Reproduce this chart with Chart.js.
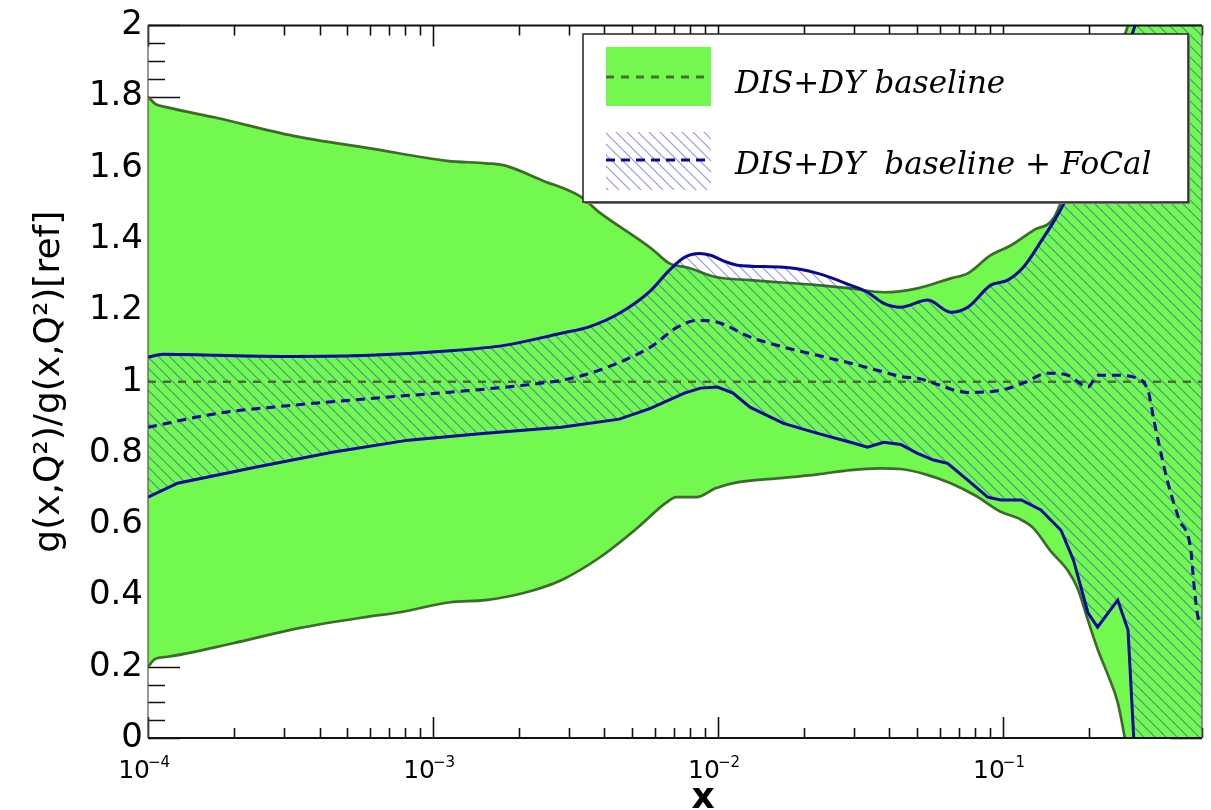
<!DOCTYPE html>
<html>
<head>
<meta charset="utf-8">
<title>Gluon nuclear modification</title>
<script src="https://cdn.jsdelivr.net/npm/chart.js@4.4.1/dist/chart.umd.min.js"></script>
<style>
  html, body { margin: 0; padding: 0; background: #fff; }
  #wrap { width: 1211px; height: 810px; }
</style>
</head>
<body>
<div id="wrap"><canvas id="chart"></canvas></div>
<script>
// DIS+DY baseline band (upper / lower edge) and its central value
const baseUpX = [1.0e-4, 1.06e-4, 1.17e-4, 1.75e-4, 3.23e-4, 6.02e-4, 1.12e-3, 1.53e-3, 1.78e-3, 2.42e-3,
  3.32e-3, 3.87e-3, 5.26e-3, 5.94e-3, 6.76e-3, 7.88e-3, 9.81e-3, 1.30e-2, 2.24e-2, 2.92e-2,
  3.82e-2, 5.02e-2, 6.56e-2, 7.53e-2, 9.07e-2, 0.107, 0.128, 0.151, 0.173, 0.204,
  0.239, 0.275, 0.331, 0.5];
const baseUpY = [1.80, 1.78, 1.77, 1.74, 1.69, 1.655, 1.62, 1.613, 1.607, 1.565,
  1.518, 1.473, 1.40, 1.369, 1.332, 1.32, 1.294, 1.285, 1.271, 1.262,
  1.251, 1.262, 1.29, 1.304, 1.355, 1.383, 1.425, 1.46, 1.58, 1.74,
  1.88, 2.0, 2.25, 2.9];

const baseLoX = [1.0e-4, 1.06e-4, 1.17e-4, 1.99e-4, 3.42e-4, 5.88e-4, 7.67e-4, 1.15e-3, 1.53e-3, 2.08e-3,
  2.82e-3, 3.87e-3, 5.26e-3, 6.55e-3, 7.15e-3, 8.41e-3, 9.81e-3, 1.18e-2, 1.70e-2, 2.24e-2,
  2.92e-2, 3.72e-2, 4.38e-2, 5.36e-2, 6.56e-2, 8.03e-2, 9.83e-2, 0.113, 0.128, 0.147,
  0.169, 0.183, 0.199, 0.215, 0.233, 0.253, 0.268, 0.305, 0.5];
const baseLoY = [0.20, 0.222, 0.228, 0.266, 0.309, 0.34, 0.353, 0.381, 0.387, 0.407,
  0.443, 0.508, 0.592, 0.659, 0.676, 0.676, 0.701, 0.718, 0.73, 0.74,
  0.752, 0.757, 0.755, 0.74, 0.715, 0.68, 0.635, 0.617, 0.589, 0.525,
  0.47, 0.42, 0.33, 0.25, 0.18, 0.10, 0.0, -0.25, -1.0];

const baseMidX = [1.0e-4, 0.5];
const baseMidY = [1.0, 1.0];

// DIS+DY baseline + FoCal band and its central value
const focUpX = [1.0e-4, 1.13e-4, 1.75e-4, 3.23e-4, 6.02e-4, 1.12e-3, 1.78e-3, 2.82e-3, 3.51e-3, 4.51e-3,
  5.80e-3, 6.76e-3, 7.63e-3, 8.61e-3, 9.42e-3, 1.04e-2, 1.17e-2, 1.70e-2, 2.24e-2, 2.92e-2,
  3.35e-2, 3.82e-2, 4.38e-2, 5.45e-2, 6.56e-2, 7.53e-2, 9.07e-2, 0.104, 0.118, 0.139,
  0.151, 0.166, 0.195, 0.230, 0.259, 0.291, 0.331, 0.5];
const focUpY = [1.069, 1.077, 1.074, 1.071, 1.074, 1.086, 1.102, 1.136, 1.153, 1.192,
  1.255, 1.313, 1.349, 1.36, 1.355, 1.34, 1.327, 1.321, 1.304, 1.271,
  1.251, 1.22, 1.209, 1.229, 1.195, 1.209, 1.271, 1.285, 1.321, 1.405,
  1.45, 1.51, 1.66, 1.80, 1.90, 2.0, 2.2, 3.0];

const focLoX = [1.0e-4, 1.27e-4, 2.38e-4, 4.43e-4, 8.19e-4, 1.53e-3, 2.82e-3, 4.51e-3, 5.80e-3, 7.63e-3,
  8.69e-3, 9.97e-3, 1.13e-2, 1.30e-2, 1.70e-2, 2.24e-2, 2.92e-2, 3.35e-2, 3.82e-2, 4.38e-2,
  5.02e-2, 5.71e-2, 6.40e-2, 7.53e-2, 8.85e-2, 9.83e-2, 0.116, 0.136, 0.160, 0.177,
  0.199, 0.215, 0.253, 0.275, 0.288, 0.305, 0.5];
const focLoY = [0.676, 0.715, 0.76, 0.802, 0.836, 0.855, 0.872, 0.895, 0.925, 0.968,
  0.982, 0.985, 0.968, 0.928, 0.883, 0.855, 0.83, 0.816, 0.83, 0.824,
  0.799, 0.78, 0.771, 0.724, 0.676, 0.668, 0.668, 0.64, 0.583, 0.499,
  0.351, 0.311, 0.387, 0.303, 0.0, -0.3, -1.5];

const focMidX = [1.0e-4, 1.75e-4, 3.23e-4, 6.02e-4, 1.12e-3, 2.08e-3, 2.82e-3, 3.37e-3, 4.44e-3, 5.80e-3,
  7.21e-3, 8.48e-3, 9.97e-3, 1.30e-2, 1.70e-2, 2.24e-2, 2.92e-2, 3.82e-2, 4.49e-2, 5.02e-2,
  5.71e-2, 7.53e-2, 9.83e-2, 0.118, 0.144, 0.169, 0.199, 0.215, 0.253, 0.288,
  0.323, 0.339, 0.359, 0.380, 0.415, 0.457, 0.468, 0.484, 0.5];
const focMidY = [0.872, 0.911, 0.934, 0.953, 0.97, 0.99, 1.004, 1.018, 1.052, 1.097,
  1.153, 1.172, 1.167, 1.125, 1.097, 1.074, 1.052, 1.027, 1.013, 1.01,
  0.996, 0.97, 0.976, 0.996, 1.024, 1.018, 0.985, 1.018, 1.018, 1.013,
  0.976, 0.892, 0.799, 0.715, 0.615, 0.527, 0.434, 0.339, 0.32];

// axis ticks
const xMajorTicks = [1e-4, 1e-3, 1e-2, 1e-1];
const xTickExponents = ['\u22124', '\u22123', '\u22122', '\u22121'];
const yMajorStep = 0.2;
const yMinorStep = 0.05;

const bandGreen = '#72f84f';
const lineGreen = '#3d6b2a';
const lineBlue = '#08089a';

function toPoints(xs, ys) {
  return xs.map((x, i) => ({ x: x, y: ys[i] }));
}

function makeHatch(color) {
  const s = 11;
  const c = document.createElement('canvas');
  c.width = s; c.height = s;
  const g = c.getContext('2d');
  g.strokeStyle = color;
  g.lineWidth = 1.1;
  g.beginPath();
  g.moveTo(-2, -2); g.lineTo(s + 2, s + 2);
  g.moveTo(-2, s - 2); g.lineTo(2, s + 2);
  g.moveTo(s - 2, -2); g.lineTo(s + 2, 2);
  g.stroke();
  return g.createPattern(c, 'repeat');
}

const hatch = makeHatch('rgba(30, 40, 230, 0.5)');

// inward ticks on all four sides, drawn under the bands
const axisTicks = {
  id: 'axisTicks',
  beforeDatasetsDraw(chart) {
    const { ctx, chartArea: a, scales: { x, y } } = chart;
    ctx.save();
    ctx.strokeStyle = '#111';
    ctx.lineWidth = 1.6;
    ctx.beginPath();
    xMajorTicks.forEach(d => {
      for (let k = 1; k <= 9; k++) {
        const v = d * k;
        if (v > x.max * 1.0001) break;
        const px = Math.round(x.getPixelForValue(v)) + 0.5;
        const len = k === 1 ? 21 : 10;
        ctx.moveTo(px, a.bottom); ctx.lineTo(px, a.bottom - len);
        ctx.moveTo(px, a.top); ctx.lineTo(px, a.top + len);
      }
    });
    const n = Math.round((y.max - y.min) / yMinorStep);
    for (let i = 0; i <= n; i++) {
      const v = y.min + i * yMinorStep;
      const py = Math.round(y.getPixelForValue(v)) + 0.5;
      const major = Math.abs(v / yMajorStep - Math.round(v / yMajorStep)) < 1e-6;
      const len = major ? 32 : 17;
      ctx.moveTo(a.left, py); ctx.lineTo(a.left + len, py);
      ctx.moveTo(a.right, py); ctx.lineTo(a.right - len, py);
    }
    ctx.stroke();
    ctx.restore();
  }
};

// frame, x labels with exponents, x title and legend box
const decorations = {
  id: 'decorations',
  afterDatasetsDraw(chart) {
    const { ctx, chartArea: a } = chart;
    ctx.save();
    ctx.strokeStyle = '#111';
    ctx.lineWidth = 2;
    ctx.beginPath();
    ctx.moveTo(a.left, a.top); ctx.lineTo(a.right, a.top);
    ctx.moveTo(a.left, a.bottom); ctx.lineTo(a.right, a.bottom);
    ctx.stroke();
    ctx.strokeStyle = '#555';
    ctx.lineWidth = 1.2;
    ctx.beginPath();
    ctx.moveTo(a.left, a.top); ctx.lineTo(a.left, a.bottom);
    ctx.moveTo(a.right, a.top); ctx.lineTo(a.right, a.bottom);
    ctx.stroke();
    ctx.restore();
  },
  afterDraw(chart) {
    const { ctx, scales: { x } } = chart;
    ctx.save();
    ctx.fillStyle = '#000';
    xMajorTicks.forEach((v, i) => {
      const px = x.getPixelForValue(v);
      ctx.font = '25px "DejaVu Sans"';
      ctx.textAlign = 'right';
      ctx.fillText('10', px + 2, 778);
      ctx.font = '15px "DejaVu Sans"';
      ctx.textAlign = 'left';
      ctx.fillText(xTickExponents[i], px, 767);
    });
    ctx.font = 'bold 36px "DejaVu Sans"';
    ctx.textAlign = 'center';
    ctx.fillText('x', 703, 808);

    // legend
    const L = 583, T = 34, R = 1188, B = 202;
    ctx.fillStyle = '#777';
    ctx.fillRect(L + 2, T + 2, R - L, B - T);
    ctx.fillStyle = '#fff';
    ctx.fillRect(L, T, R - L, B - T);
    ctx.strokeStyle = '#222';
    ctx.lineWidth = 1.5;
    ctx.strokeRect(L, T, R - L, B - T);

    ctx.fillStyle = bandGreen;
    ctx.fillRect(606, 47, 105, 59);
    ctx.fillStyle = hatch;
    ctx.fillRect(606, 132, 105, 58);

    ctx.lineWidth = 3;
    ctx.setLineDash([8, 7]);
    ctx.strokeStyle = '#4a6a3c';
    ctx.beginPath(); ctx.moveTo(606, 77); ctx.lineTo(711, 77); ctx.stroke();
    ctx.setLineDash([9, 6]);
    ctx.strokeStyle = lineBlue;
    ctx.beginPath(); ctx.moveTo(606, 160); ctx.lineTo(711, 160); ctx.stroke();
    ctx.setLineDash([]);

    ctx.fillStyle = '#000';
    ctx.textAlign = 'left';
    ctx.font = 'italic 31px "DejaVu Serif"';
    ctx.fillText('DIS+DY baseline', 735, 93);
    ctx.fillText('DIS+DY  baseline + FoCal', 735, 174);
    ctx.restore();
  }
};

const ctx = document.getElementById('chart').getContext('2d');
new Chart(ctx, {
  type: 'line',
  data: {
    datasets: [
      {
        data: toPoints(baseUpX, baseUpY),
        borderColor: lineGreen, borderWidth: 2.7,
        backgroundColor: bandGreen, fill: 1, order: 10
      },
      {
        data: toPoints(baseLoX, baseLoY),
        borderColor: lineGreen, borderWidth: 2.7,
        fill: false, order: 9
      },
      {
        data: toPoints(focUpX, focUpY),
        borderColor: lineBlue, borderWidth: 3,
        backgroundColor: hatch, fill: 3, order: 8
      },
      {
        // straight segments keep the sharp kinks at large x
        data: toPoints(focLoX, focLoY),
        borderColor: lineBlue, borderWidth: 3,
        cubicInterpolationMode: 'default', tension: 0,
        fill: false, order: 4
      },
      {
        data: toPoints(baseMidX, baseMidY),
        borderColor: '#4a6a3c', borderWidth: 2.5, borderDash: [8, 7],
        fill: false, order: 6
      },
      {
        data: toPoints(focMidX, focMidY),
        borderColor: lineBlue, borderWidth: 3, borderDash: [9, 6],
        fill: false, order: 3
      }
    ]
  },
  options: {
    responsive: true,
    maintainAspectRatio: false,
    animation: false,
    devicePixelRatio: 1,
    layout: { padding: { top: 25, right: 9, bottom: 0, left: 0 } },
    elements: { point: { radius: 0 }, line: { cubicInterpolationMode: 'monotone' } },
    plugins: { legend: { display: false }, tooltip: { enabled: false } },
    scales: {
      x: {
        type: 'logarithmic',
        min: 1e-4,
        max: 0.5,
        grid: { display: false, drawTicks: false },
        border: { display: false },
        ticks: { display: false },
        afterFit(s) { s.height = 72; }
      },
      y: {
        type: 'linear',
        min: 0,
        max: 2,
        grid: { display: false, drawTicks: false },
        border: { display: false },
        ticks: {
          stepSize: yMajorStep,
          padding: 5,
          color: '#000',
          font: { family: 'DejaVu Sans', size: 34 },
          callback: v => String(+v.toFixed(1))
        },
        title: {
          display: true,
          text: 'g(x,Q\u00b2)/g(x,Q\u00b2)[ref]',
          color: '#000',
          font: { family: 'DejaVu Sans', size: 36 },
          padding: { top: 28, bottom: 0 }
        },
        afterFit(s) { s.width = 148; }
      }
    }
  },
  plugins: [axisTicks, decorations]
});
</script>
</body>
</html>
